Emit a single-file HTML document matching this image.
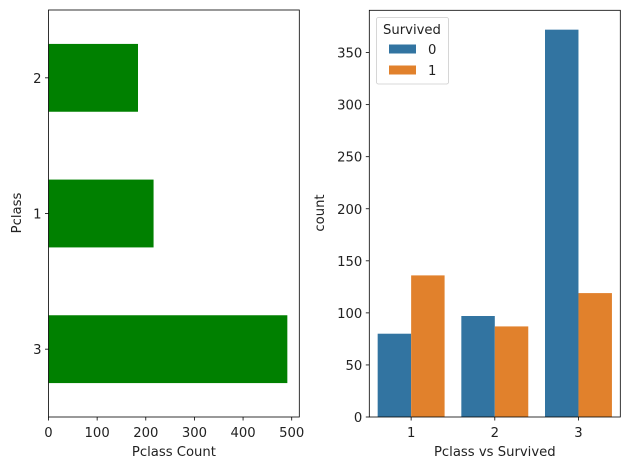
<!DOCTYPE html>
<html><head><meta charset="utf-8"><style>
body{margin:0;background:#fff}
svg{display:block;font-family:"DejaVu Sans","Liberation Sans",sans-serif}
</style></head><body>
<svg id="c" width="629" height="470"></svg>
<script>
const leftCats = ["3","1","2"];
const leftVals = [491, 216, 184];
const leftTicks = [0,100,200,300,400,500];
const rightCats = ["1","2","3"];
const died = [80, 97, 372];
const survived = [136, 87, 119];
const rightTicks = [0,50,100,150,200,250,300,350];
const legendLabels = ["0","1"];

const FS=13.2;
const NS="http://www.w3.org/2000/svg";
const svg=document.getElementById('c');
function mk(tag,attrs,parent){const e=document.createElementNS(NS,tag);for(const k in attrs)e.setAttribute(k,attrs[k]);(parent||svg).appendChild(e);return e;}
function txt(s,attrs){const e=mk('text',Object.assign({'font-size':FS,fill:'#222'},attrs));e.textContent=s;return e;}

// LEFT
const L={x0:48.5,x1:299.3,y0:10,y1:417};
const lx=v=>L.x0+v*(L.x1-L.x0)/515.6;
const ly=i=>L.y1-(i+0.5)*(L.y1-L.y0)/3;
const gL=mk('g',{});


leftVals.forEach((v,i)=>{
  const h=(L.y1-L.y0)/3*0.5;
  const r=mk('rect',{x:lx(0),y:ly(i)-h/2,width:lx(v)-lx(0),height:h,fill:'#008000'},gL);
  
  
  mk('line',{x1:L.x0,x2:L.x0-3.5,y1:ly(i),y2:ly(i),stroke:'#000','stroke-width':0.8},gL);
  const t=txt(leftCats[i],{x:L.x0-7,y:ly(i)+5,'text-anchor':'end'});
  
  
});
leftTicks.forEach(v=>{
  mk('line',{x1:lx(v),x2:lx(v),y1:L.y1,y2:L.y1+3.5,stroke:'#000','stroke-width':0.8},gL);
  const t=txt(String(v),{x:lx(v),y:L.y1+20,'text-anchor':'middle'});
  
  
});
const lf=mk('rect',{x:L.x0,y:L.y0,width:L.x1-L.x0,height:L.y1-L.y0,fill:'none',stroke:'#000','stroke-width':0.8},gL);


let t=txt('Pclass Count',{x:(L.x0+L.x1)/2,y:456,'text-anchor':'middle'});


t=txt('Pclass',{x:0,y:0,'text-anchor':'middle',transform:'translate(21,213) rotate(-90)'});



// RIGHT
const R={x0:369.3,x1:620.3,y0:10.3,y1:417};
const ry=v=>R.y1-v*(R.y1-R.y0)/390.6;
const bw=(R.x1-R.x0)/3;
const rx=i=>R.x0+(i+0.5)*bw;
const gR=mk('g',{});


rightCats.forEach((c,i)=>{
  const w=bw*0.4;
  let r=mk('rect',{x:rx(i)-w,y:ry(died[i]),width:w,height:ry(0)-ry(died[i]),fill:'#3274a1'},gR);
  
  
  r=mk('rect',{x:rx(i),y:ry(survived[i]),width:w,height:ry(0)-ry(survived[i]),fill:'#e1812c'},gR);
  
  
  mk('line',{x1:rx(i),x2:rx(i),y1:R.y1,y2:R.y1+3.5,stroke:'#000','stroke-width':0.8},gR);
  const tt=txt(c,{x:rx(i),y:R.y1+20,'text-anchor':'middle'});
  
  
});
rightTicks.forEach(v=>{
  mk('line',{x1:R.x0,x2:R.x0-3.5,y1:ry(v),y2:ry(v),stroke:'#000','stroke-width':0.8},gR);
  const tt=txt(String(v),{x:R.x0-7,y:ry(v)+5,'text-anchor':'end'});
  
  
});
const rf=mk('rect',{x:R.x0,y:R.y0,width:R.x1-R.x0,height:R.y1-R.y0,fill:'none',stroke:'#000','stroke-width':0.8},gR);


t=txt('Pclass vs Survived',{x:(R.x0+R.x1)/2,y:456,'text-anchor':'middle'});


t=txt('count',{x:0,y:0,'text-anchor':'middle',transform:'translate(324,213) rotate(-90)'});



// legend
const lg=mk('g',{});


mk('rect',{x:376.5,y:17.5,width:72,height:66.5,rx:2,fill:'#fff',stroke:'#ccc','stroke-width':0.8},lg);
t=txt('Survived',{x:383,y:34});


const cols=['#3274a1','#e1812c'];
legendLabels.forEach((l,i)=>{
  const y=44.5+i*21;
  const sw=mk('rect',{x:389,y:y,width:27,height:9,fill:cols[i]},lg);
  
  
  const tt=txt(l,{x:428,y:y+9.5});
  
  
});
</script>
</body></html>
